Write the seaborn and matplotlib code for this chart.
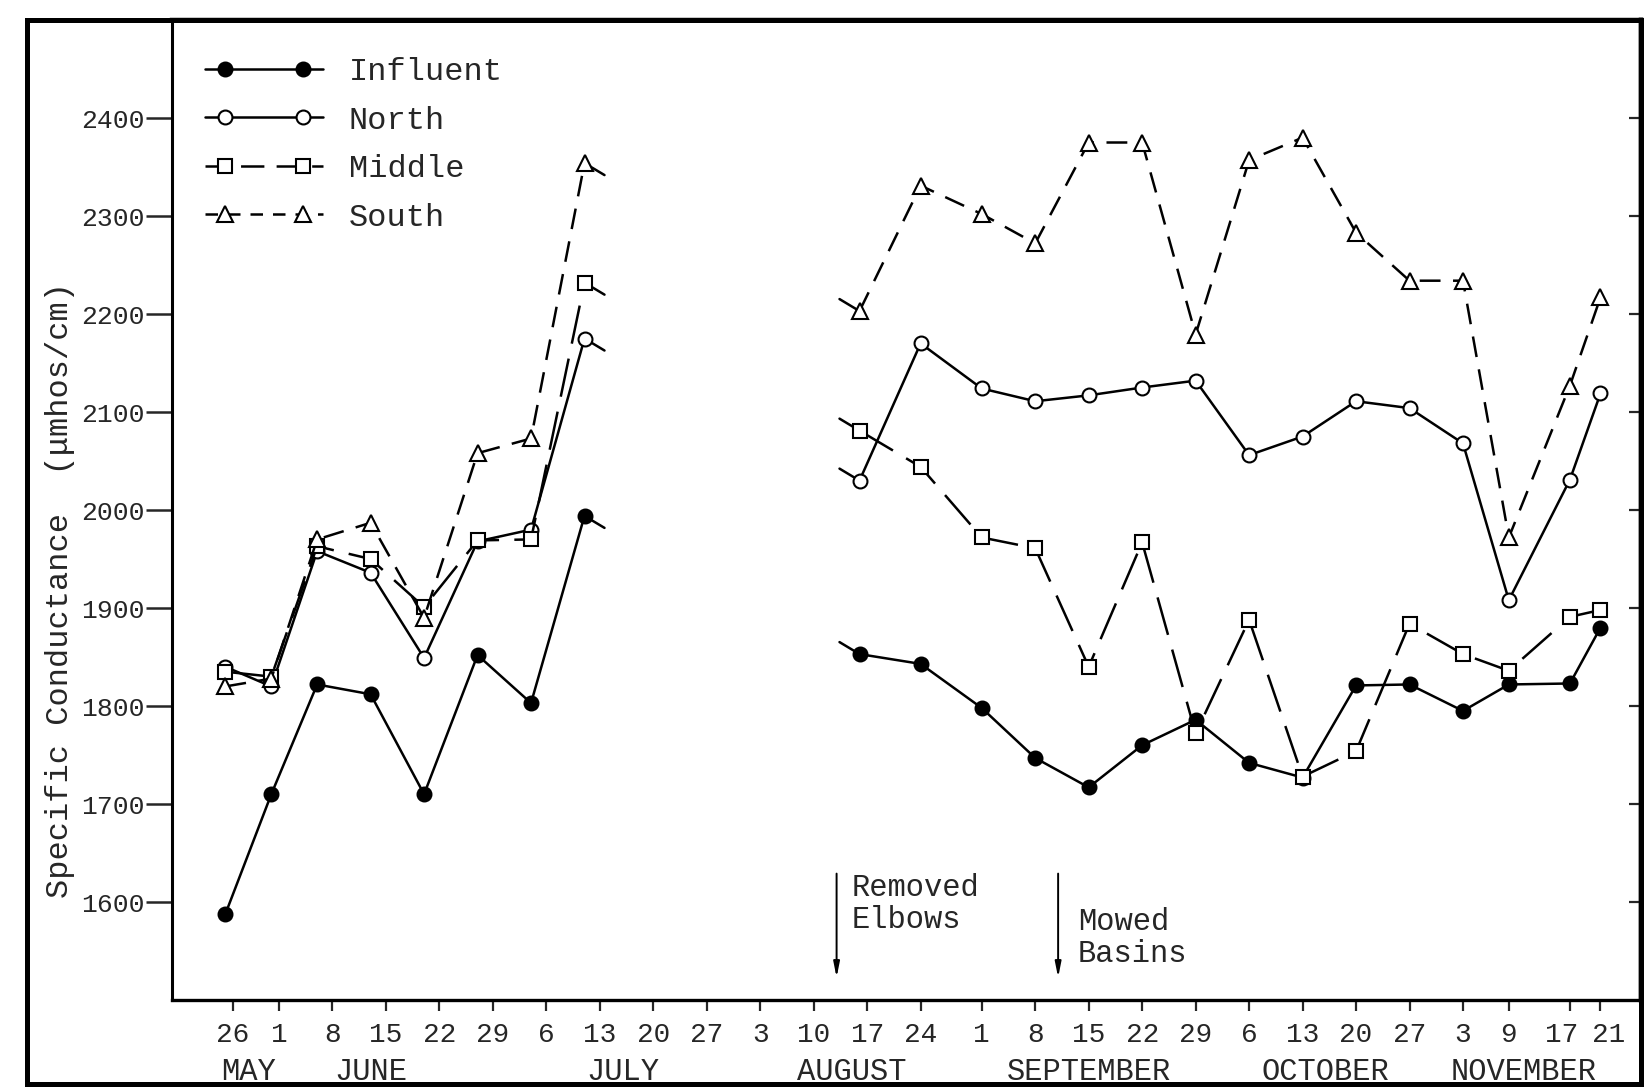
import numpy as np
import pandas as pd
import matplotlib
matplotlib.use("Agg")
import matplotlib.pyplot as plt
import matplotlib.transforms as mtransforms
import seaborn as sns
from matplotlib.lines import Line2D
from matplotlib.legend_handler import HandlerLine2D
from matplotlib.patches import Rectangle

# ---------------------------------------------------------------- data
YEAR = 1977

# sampling dates: early-summer run and late-summer / fall run
dates_early = ["05-25", "05-31", "06-06", "06-13", "06-20", "06-27", "07-04", "07-11"]
dates_late = ["08-16", "08-24", "09-01", "09-08", "09-15", "09-22", "09-29", "10-06",
              "10-13", "10-20", "10-27", "11-03", "11-09", "11-17", "11-21"]

# specific conductance (umhos/cm)
influent_early = [1588, 1710, 1822, 1812, 1710, 1852, 1803, 1994]
north_early = [1840, 1820, 1958, 1936, 1849, 1968, 1980, 2175]
middle_early = [1835, 1830, 1963, 1950, 1901, 1969, 1970, 2232]
south_early = [1820, 1828, 1970, 1987, 1890, 2058, 2073, 2354]

influent_late = [1853, 1843, 1798, 1747, 1717, 1760, 1786, 1742, 1727, 1821, 1822, 1795, 1822, 1823, 1880]
north_late = [2030, 2170, 2124, 2111, 2117, 2125, 2132, 2056, 2075, 2111, 2104, 2068, 1908, 2031, 2119]
middle_late = [2081, 2044, 1972, 1961, 1840, 1967, 1772, 1888, 1728, 1754, 1884, 1853, 1836, 1891, 1898]
south_late = [2203, 2331, 2302, 2272, 2375, 2375, 2179, 2357, 2380, 2283, 2234, 2234, 1972, 2127, 2217]

series_names = ["Influent", "North", "Middle", "South"]

# axis ticks and labels
tick_dates = ["05-26", "06-01", "06-08", "06-15", "06-22", "06-29", "07-06", "07-13", "07-20",
              "07-27", "08-03", "08-10", "08-17", "08-24", "09-01", "09-08", "09-15", "09-22",
              "09-29", "10-06", "10-13", "10-20", "10-27", "11-03", "11-09", "11-17", "11-21"]
tick_labels = ["26", "1", "8", "15", "22", "29", "6", "13", "20", "27", "3", "10", "17", "24",
               "1", "8", "15", "22", "29", "6", "13", "20", "27", "3", "9", "17", "21"]
month_names = ["MAY", "JUNE", "JULY", "AUGUST", "SEPTEMBER", "OCTOBER", "NOVEMBER"]
month_label_dates = ["05-28", "06-13", "07-16", "08-15", "09-15", "10-16", "11-11"]
y_ticks = [1600, 1700, 1800, 1900, 2000, 2100, 2200, 2300, 2400]

# field events
event_labels = ["Removed\nElbows", "Mowed\nBasins"]
event_dates = ["08-13", "09-11"]


def to_dt(md):
    return pd.to_datetime([f"{YEAR}-{d}" for d in md])


# ---------------------------------------------------------------- style
sns.set_style("ticks")
FONT = ["Liberation Mono", "DejaVu Sans Mono"]
plt.rcParams["font.family"] = FONT
plt.rcParams["lines.scale_dashes"] = False

fig = plt.figure(figsize=(16.49, 10.87), dpi=100)
fig.patch.set_facecolor("white")
ax = fig.add_axes([0.1043, 0.080, 0.9951 - 0.1043, 0.9816 - 0.080])
ax.set_facecolor("white")

LW = 1.8
MEW = 1.5
styles = {
    "Influent": dict(marker="o", markersize=10, markerfacecolor="black", dashes=None),
    "North": dict(marker="o", markersize=10, markerfacecolor="white", dashes=None),
    "Middle": dict(marker="s", markersize=9.5, markerfacecolor="white", dashes=(28, 11)),
    "South": dict(marker="^", markersize=11, markerfacecolor="white", dashes=(15, 9)),
}
early_vals = dict(zip(series_names, [influent_early, north_early, middle_early, south_early]))
late_vals = dict(zip(series_names, [influent_late, north_late, middle_late, south_late]))

x_early = to_dt(dates_early)
x_late = to_dt(dates_late)

for name in series_names:
    st = styles[name]
    for xs, vals in ((x_early, early_vals[name]), (x_late, late_vals[name])):
        sns.lineplot(x=xs, y=vals, ax=ax, color="black", linewidth=LW,
                     marker=st["marker"], markersize=st["markersize"],
                     markerfacecolor=st["markerfacecolor"], markeredgecolor="black",
                     markeredgewidth=MEW, estimator=None, sort=False, legend=False)
        line = ax.lines[-1]
        if st["dashes"] is not None:
            line.set_dashes(st["dashes"])
        line.set_zorder(3)

    # short break marks where the record is interrupted in mid-summer
    ax.annotate("", xy=(x_early[-1], early_vals[name][-1]), xytext=(20, -12),
                textcoords="offset pixels", zorder=2,
                arrowprops=dict(arrowstyle="-", lw=LW, color="black", shrinkA=0, shrinkB=0))
    ax.annotate("", xy=(x_late[0], late_vals[name][0]), xytext=(-20, 12),
                textcoords="offset pixels", zorder=2,
                arrowprops=dict(arrowstyle="-", lw=LW, color="black", shrinkA=0, shrinkB=0))

# ---------------------------------------------------------------- axes
ax.set_ylim(1500, 2500)
ax.set_xlim(pd.Timestamp(f"{YEAR}-05-18"), pd.Timestamp(f"{YEAR}-11-26") + pd.Timedelta(hours=7))
ax.set_xlabel("")
ax.set_ylabel("")

ax.set_yticks(y_ticks)
ax.set_yticklabels([str(v) for v in y_ticks])
ax.tick_params(axis="y", direction="out", length=19, width=1.8, pad=1, labelsize=19,
               left=True, right=False)
ax.set_xticks(to_dt(tick_dates))
ax.set_xticklabels(tick_labels)
ax.tick_params(axis="x", direction="out", length=8, width=1.6, pad=8, labelsize=20)

# spread the two crowded November labels apart
xlabels = ax.get_xticklabels()
for lab, dx in ((xlabels[-2], -8), (xlabels[-1], 8)):
    lab.set_transform(lab.get_transform() + mtransforms.Affine2D().translate(dx, 0))

for side, w in (("left", 2.2), ("bottom", 2.4), ("top", 3.2), ("right", 3.2)):
    ax.spines[side].set_visible(True)
    ax.spines[side].set_linewidth(w)
    ax.spines[side].set_color("black")

sec = ax.secondary_yaxis("right")
sec.set_yticks(y_ticks)
sec.tick_params(direction="in", length=9, width=1.6, labelright=False)
sec.spines["right"].set_linewidth(3.2)

for name, md in zip(month_names, to_dt(month_label_dates)):
    ax.text(md, -0.073, name, transform=ax.get_xaxis_transform(), ha="center", va="center",
            fontsize=22, clip_on=False)

# field events: arrows with notes
for text, md in zip(event_labels, to_dt(event_dates)):
    ax.annotate("", xy=(md, 1523), xytext=(md, 1629),
                arrowprops=dict(arrowstyle="-|>,head_length=0.9,head_width=0.18",
                                lw=1.4, color="black", shrinkA=0, shrinkB=0))
text_pos = [(1598, 15), (1563, 20)]
for text, md, (yv, dx) in zip(event_labels, to_dt(event_dates), text_pos):
    tr = mtransforms.offset_copy(ax.transData, fig=fig, x=dx, y=0, units="dots")
    ax.text(md, yv, text, transform=tr, ha="left", va="center", fontsize=22, linespacing=1.1)

fig.text(60 / 1649, 1 - 590 / 1087, "Specific Conductance  (μmhos/cm)", rotation=90,
         ha="center", va="center", fontsize=23)


# ---------------------------------------------------------------- legend
class HandlerInset(HandlerLine2D):
    """Legend line that runs past the two markers on both ends."""

    def create_artists(self, legend, orig_handle, xdescent, ydescent, width, height,
                       fontsize, trans):
        xs = np.linspace(-xdescent, -xdescent + width, 7)
        ys = np.full_like(xs, (height - ydescent) / 2)
        line = Line2D(xs, ys)
        self.update_prop(line, orig_handle, legend)
        line.set_markevery([1, 5])
        line.set_transform(trans)
        return [line]


handles = []
for name in series_names:
    st = styles[name]
    kw = dict(color="black", linewidth=LW, marker=st["marker"], markersize=st["markersize"],
              markerfacecolor=st["markerfacecolor"], markeredgecolor="black", markeredgewidth=MEW)
    if st["dashes"] is not None:
        kw["dashes"] = (st["dashes"][0] * 0.6, st["dashes"][1] * 0.8)
    handles.append(Line2D([], [], **kw))

ax.legend(handles, series_names, handler_map={Line2D: HandlerInset()}, loc="upper left",
          bbox_to_anchor=(205 / 1649, 1 - 57 / 1087), bbox_transform=fig.transFigure,
          frameon=False, handlelength=3.7, handletextpad=0.8, labelspacing=0.58,
          borderpad=0, borderaxespad=0, fontsize=23)

# outer frame of the figure
fig.add_artist(Rectangle((27 / 1649, 3 / 1087), (1641 - 27) / 1649, (1067 - 3) / 1087,
                         transform=fig.transFigure, fill=False, lw=3.6, ec="black"))

fig.savefig("out.png", dpi=100, facecolor="white")
